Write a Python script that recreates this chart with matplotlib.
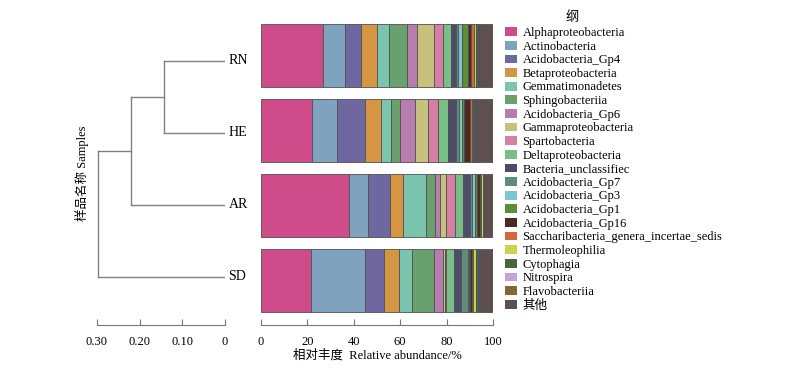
import numpy as np
import matplotlib
matplotlib.use("Agg")
import matplotlib.pyplot as plt
from matplotlib.patches import Patch

plt.rcParams['font.family'] = ['Liberation Serif', 'Noto Sans CJK SC']

samples = ['RN', 'HE', 'AR', 'SD']

taxa = ['Alphaproteobacteria', 'Actinobacteria', 'Acidobacteria_Gp4', 'Betaproteobacteria',
        'Gemmatimonadetes', 'Sphingobacteriia', 'Acidobacteria_Gp6', 'Gammaproteobacteria',
        'Spartobacteria', 'Deltaproteobacteria', 'Bacteria_unclassifiec', 'Acidobacteria_Gp7',
        'Acidobacteria_Gp3', 'Acidobacteria_Gp1', 'Acidobacteria_Gp16',
        'Saccharibacteria_genera_incertae_sedis', 'Thermoleophilia', 'Cytophagia',
        'Nitrospira', 'Flavobacteriia', '其他']

colors = ['#CF4C8A', '#7FA3BE', '#6F67A0', '#D59542', '#7BC4AE', '#68A06E', '#B67DAE',
          '#C7C17E', '#D77EA5', '#78BE86', '#4E4C6A', '#5F8C7A', '#7BC6CF', '#5A8E3A',
          '#4A2A25', '#CF6A3A', '#C8D44A', '#4A6440', '#C7A3CF', '#7E6A32', '#5F5050']

# relative abundance (%) per sample, same order as taxa
rn = [26.6, 9.7, 6.8, 7.0, 5.1, 7.6, 4.6, 7.3, 3.9, 3.2, 2.3, 0.8, 1.7, 2.8, 1.1, 1.4, 0.8, 0.6, 0.2, 0.5, 6.0]
he = [22.1, 10.7, 12.2, 6.6, 4.4, 4.1, 6.1, 5.9, 4.3, 4.3, 3.4, 1.2, 1.2, 1.1, 2.5, 0.7, 0.7, 0.5, 0.2, 0.3, 7.5]
ar = [37.8, 8.5, 9.3, 5.5, 10.0, 4.0, 2.2, 2.3, 4.2, 3.4, 2.9, 1.0, 1.1, 1.1, 1.1, 0.6, 0.5, 0.3, 0.2, 0.1, 3.9]
sd = [21.6, 23.4, 7.9, 6.6, 5.4, 9.8, 3.9, 0.7, 0.4, 3.6, 2.8, 3.3, 0.4, 0.4, 0.6, 0.7, 1.0, 1.2, 0.3, 0.4, 5.6]

# cluster merge heights: (RN,HE), (+AR), (+SD)
merge_h = [0.143, 0.221, 0.297]
dend_ticks = [0.30, 0.20, 0.10, 0]
dend_ticklabels = ['0.30', '0.20', '0.10', '0']

data = np.array([rn, he, ar, sd])

fig = plt.figure(figsize=(8, 3.71), dpi=100)

# stacked bars
axb = fig.add_axes([261/800, 1-325/371, 232/800, 308/371])
ypos = np.arange(len(samples))
left = np.zeros(len(samples))
for i, t in enumerate(taxa):
    axb.barh(ypos, data[:, i], left=left, height=0.84, color=colors[i],
             edgecolor='#505050', linewidth=0.6)
    left += data[:, i]
axb.set_xlim(0, 100)
axb.set_ylim(3.587, -0.52)
axb.set_yticks([])
for s in ['top', 'right', 'left']:
    axb.spines[s].set_visible(False)
axb.spines['bottom'].set_color('#777777')
axb.set_xticks([0, 20, 40, 60, 80, 100])
axb.tick_params(axis='x', direction='in', length=4, color='#777777', labelsize=9, pad=8)
axb.set_xlabel('相对丰度  Relative abundance/%', fontsize=9, labelpad=1)

# dendrogram
axd = fig.add_axes([97/800, 1-325/371, 128/800, 308/371])
lc = '#808080'
c1 = (0 + 1) / 2
axd.plot([0, merge_h[0]], [0, 0], color=lc, lw=1)
axd.plot([0, merge_h[0]], [1, 1], color=lc, lw=1)
axd.plot([merge_h[0], merge_h[0]], [0, 1], color=lc, lw=1)
axd.plot([merge_h[0], merge_h[1]], [c1, c1], color=lc, lw=1)
axd.plot([0, merge_h[1]], [2, 2], color=lc, lw=1)
axd.plot([merge_h[1], merge_h[1]], [c1, 2], color=lc, lw=1)
c2 = (c1 + 2) / 2
axd.plot([merge_h[1], merge_h[2]], [c2, c2], color=lc, lw=1)
axd.plot([0, merge_h[2]], [3, 3], color=lc, lw=1)
axd.plot([merge_h[2], merge_h[2]], [c2, 3], color=lc, lw=1)
for i, s in enumerate(samples):
    axd.text(-0.008, i, s, fontsize=10, va='center', ha='left', clip_on=False)
axd.set_xlim(0.30, 0)
axd.set_ylim(3.667, -0.611)
axd.set_yticks([])
for s in ['top', 'right', 'left']:
    axd.spines[s].set_visible(False)
axd.spines['bottom'].set_color('#777777')
axd.set_xticks(dend_ticks)
axd.set_xticklabels(dend_ticklabels)
axd.tick_params(axis='x', direction='in', length=4, color='#777777', labelsize=9, pad=8)
fig.text(82/800, 1-173/371, '样品名称 Samples', rotation=90, fontsize=9,
         ha='center', va='center')

# legend
fig.text(572/800, 1-18/371, '纲', fontsize=9.5, ha='center', va='center')
handles = [Patch(facecolor=c, edgecolor='none') for c in colors]
fig.legend(handles, taxa, loc='upper left', bbox_to_anchor=(505/800, 1-27/371),
           frameon=False, fontsize=9, handlelength=0.95, handleheight=0.7,
           handletextpad=0.45, labelspacing=0.13, borderaxespad=0, borderpad=0)

fig.savefig('out.png', dpi=100)
